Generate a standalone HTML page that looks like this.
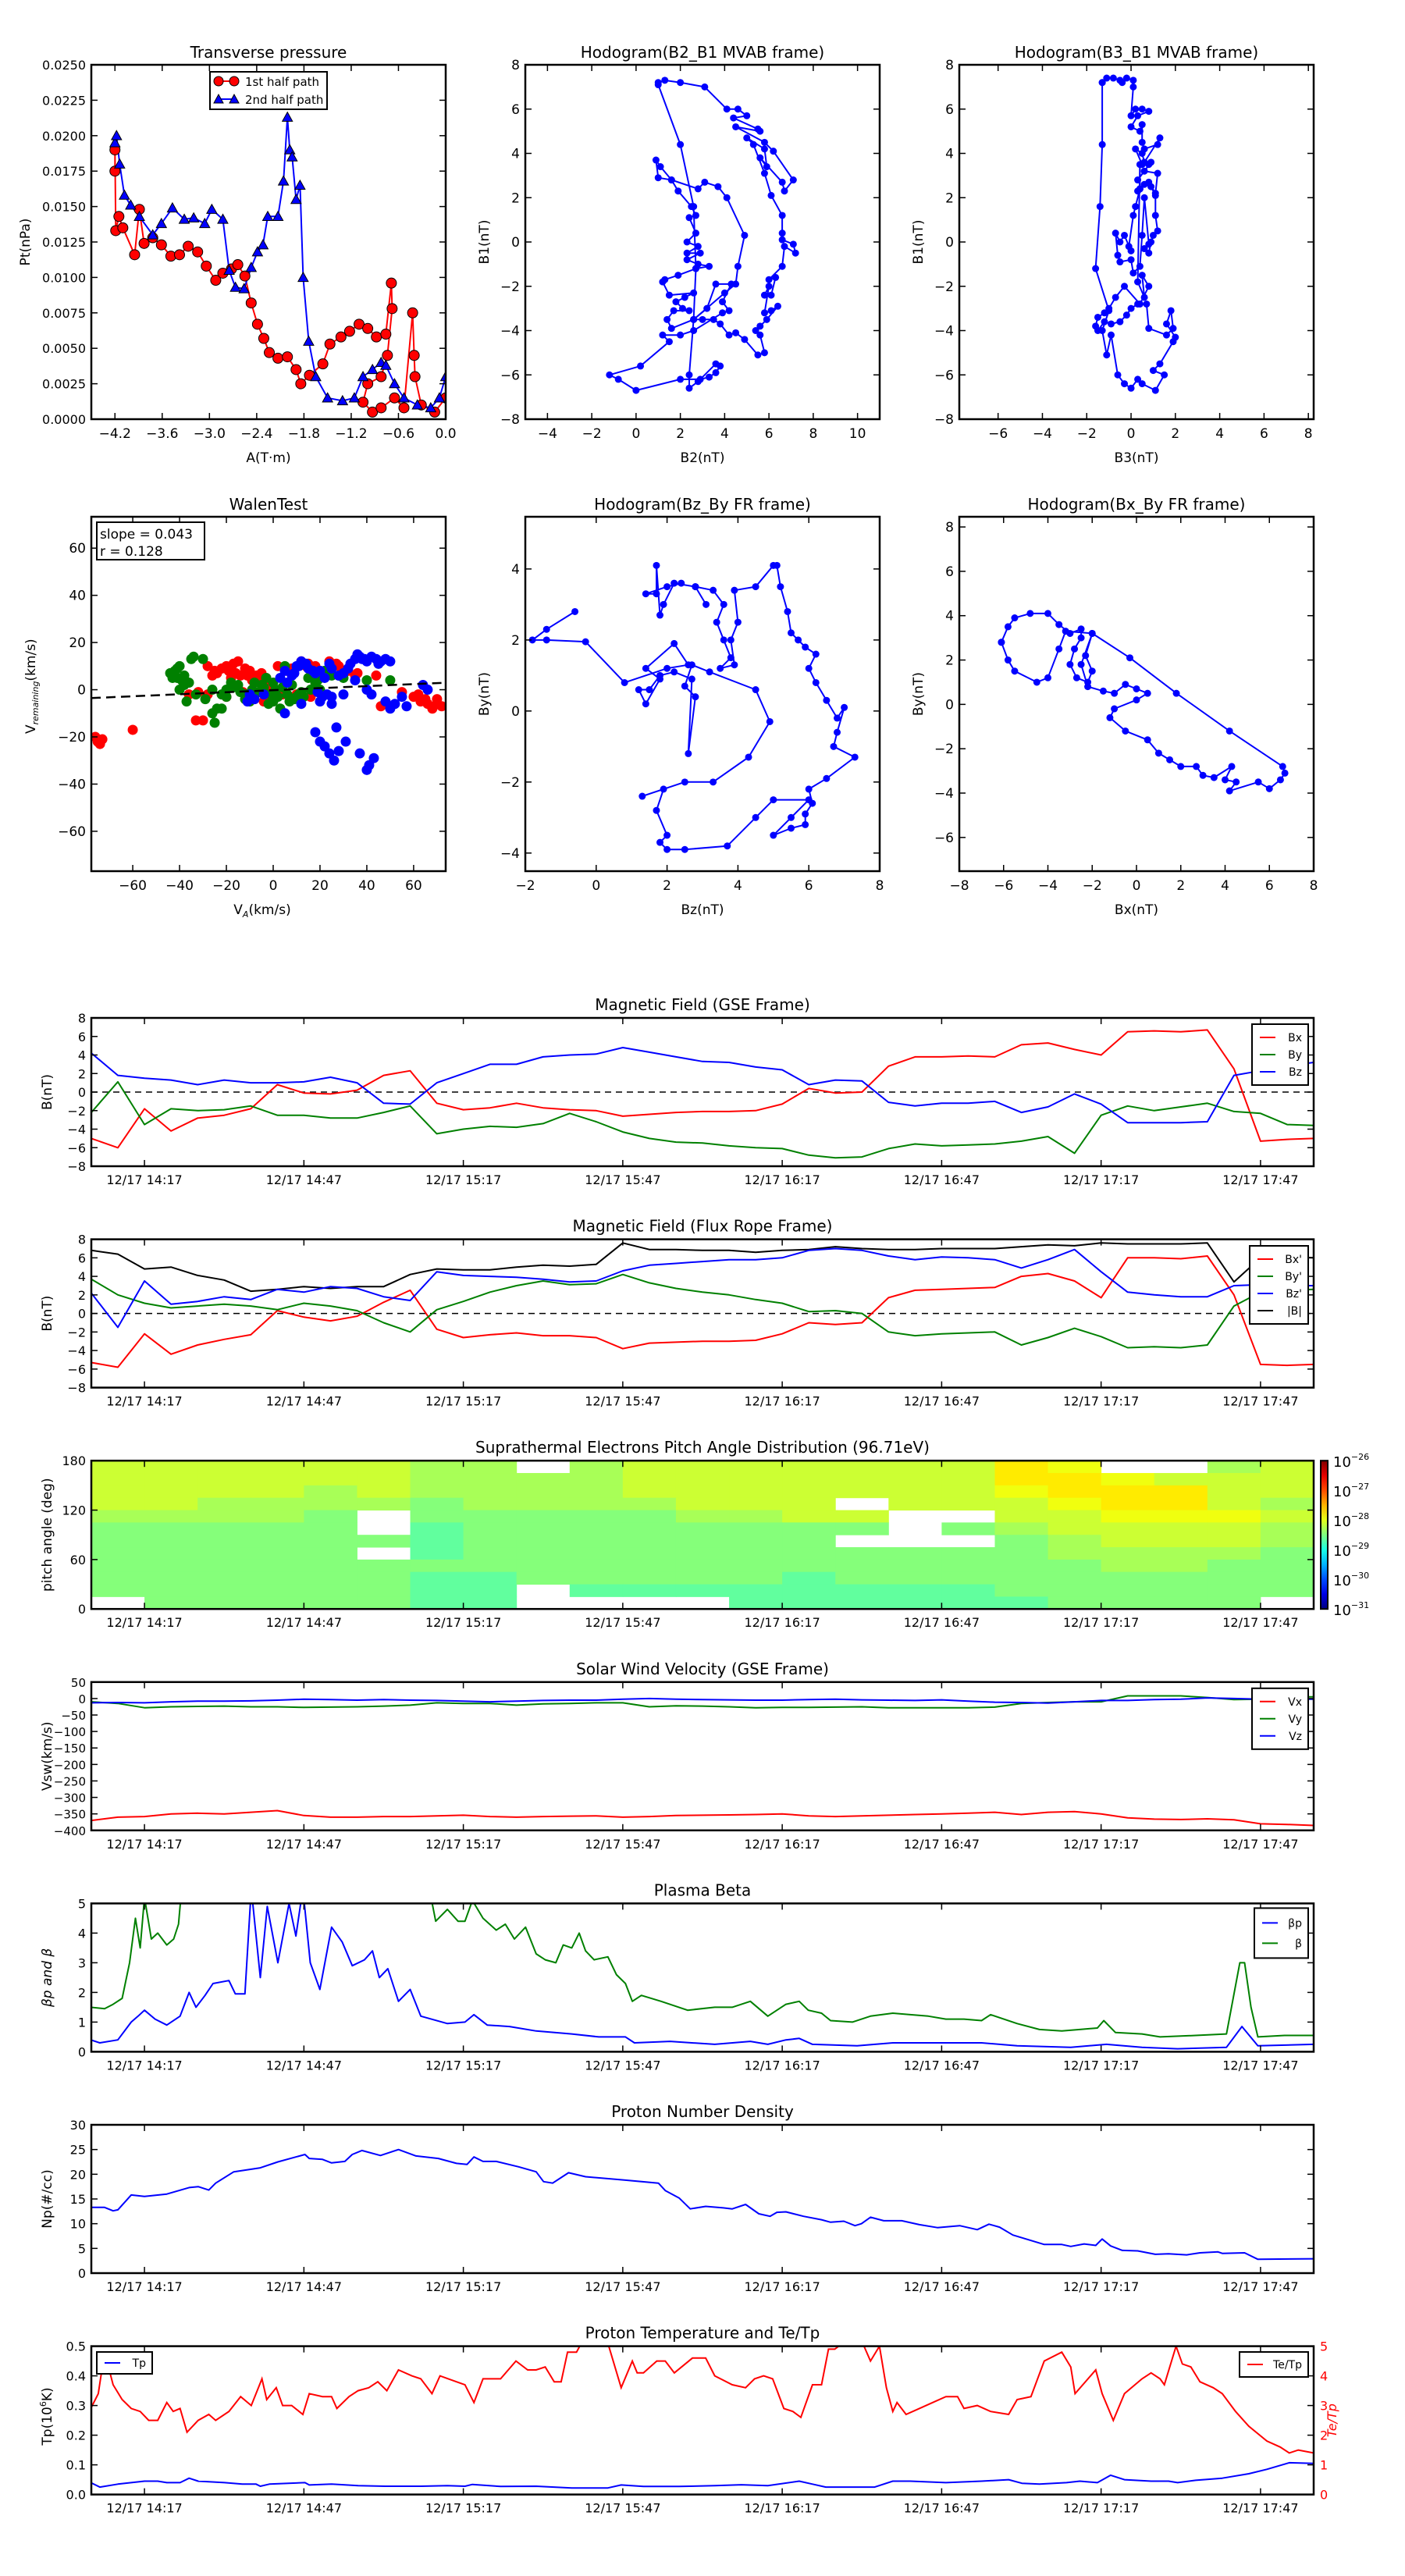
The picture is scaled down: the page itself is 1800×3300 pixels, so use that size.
<!DOCTYPE html>
<html><head><meta charset="utf-8"><title>Flux rope analysis</title>
<style>body{margin:0;background:#fff}svg{display:block}</style></head>
<body>
<svg id="fig" xmlns="http://www.w3.org/2000/svg" width="1800" height="3300" viewBox="0 0 1800 3300"><defs id="defs"></defs></svg>
<script>
// ===================== DATA =====================
const ptRedA=[-4.2,-4.2,-4.19,-4.15,-4.1,-3.95,-3.89,-3.83,-3.72,-3.61,-3.49,-3.38,-3.27,-3.15,-3.04,-2.92,-2.83,-2.72,-2.64,-2.55,-2.47,-2.39,-2.31,-2.24,-2.13,-2.01,-1.9,-1.84,-1.73,-1.56,-1.47,-1.33,-1.22,-1.1,-0.99,-0.88,-0.76,-0.69,-0.68,-0.74,-0.82,-0.99,-1.05,-0.93,-0.82,-0.65,-0.53,-0.42,-0.4,-0.39,-0.31,-0.14,0];
const ptRedP=[0.0175,0.019,0.0133,0.0143,0.0135,0.0116,0.0148,0.0124,0.0128,0.0123,0.0115,0.0116,0.0122,0.0118,0.0108,0.0098,0.0103,0.0106,0.0109,0.0101,0.0082,0.0067,0.0057,0.0047,0.0043,0.0044,0.0035,0.0025,0.0031,0.0039,0.0053,0.0058,0.0062,0.0067,0.0064,0.0058,0.006,0.0096,0.0078,0.0045,0.003,0.0025,0.0012,0.0005,0.0008,0.0015,0.0008,0.0075,0.0045,0.003,0.001,0.0005,0.0015];
const ptBlueA=[-4.2,-4.18,-4.14,-4.08,-4.0,-3.89,-3.72,-3.61,-3.47,-3.32,-3.2,-3.06,-2.97,-2.83,-2.75,-2.67,-2.56,-2.47,-2.39,-2.32,-2.26,-2.13,-2.06,-2.01,-1.98,-1.95,-1.9,-1.85,-1.81,-1.74,-1.65,-1.5,-1.31,-1.16,-1.05,-0.93,-0.82,-0.76,-0.65,-0.53,-0.36,-0.19,-0.08,0];
const ptBlueP=[0.0195,0.02,0.018,0.0158,0.0151,0.0143,0.013,0.0138,0.0149,0.0141,0.0142,0.0138,0.0148,0.0141,0.0105,0.0093,0.0092,0.0107,0.0118,0.0123,0.0143,0.0143,0.0168,0.0213,0.019,0.0185,0.0155,0.0165,0.01,0.0055,0.003,0.0015,0.0013,0.0015,0.003,0.0035,0.004,0.0038,0.0025,0.0015,0.001,0.0008,0.0015,0.003];
const hB2=[1.0,1.3,2.0,3.1,4.1,4.6,5.0,4.4,5.5,5.6,4.5,5.8,6.2,7.1,6.7,6.6,5.6,5.9,5.8,5.0,5.3,5.8,6.1,6.6,6.6,6.6,7.1,7.2,6.7,6.6,6.0,6.3,6.1,5.8,6.0,5.8,6.1,6.4,5.9,5.6,5.4,5.6,5.8,5.5,4.9,4.5,4.2,3.8,3.5,3.0,2.6,4.0,4.5,4.6,4.9,4.1,3.7,3.1,2.8,1.6,1.0,0.9,1.1,1.6,1.9,2.5,2.7,2.4,2.7,2.3,2.8,2.3,2.9,2.3,2.8,3.3,2.7,1.9,1.3,1.2,1.5,2.6,2.2,1.8,2.1,2.4,1.7,1.4,1.6,2.6,3.2,3.6,4.3,3.9,4.2,3.9,2.6,2.0,1.2,1.5,0.2,-1.2,-0.8,0.0,2.0,2.9,3.3,3.6,3.8,3.6,2.8,2.4,2.4,2.6,2.7,2.6,2.0,1.0];
const hB1=[7.2,7.3,7.2,7.0,6.0,6.0,5.7,5.6,5.1,5.0,5.2,4.5,4.1,2.8,2.3,2.7,3.8,3.4,4.2,4.7,4.4,3.1,2.1,1.2,0.4,0.1,-0.1,-0.5,-0.2,-1.1,-1.7,-1.6,-2.4,-2.4,-2.0,-3.2,-3.1,-2.9,-3.5,-3.8,-4.0,-4.2,-5.0,-5.1,-4.4,-4.1,-4.2,-3.7,-3.5,-3.5,-3.5,-2.3,-1.9,-1.1,0.3,2.0,2.5,2.7,2.4,2.8,2.9,3.7,3.4,2.8,2.3,1.6,1.2,1.1,0.4,0.0,-0.2,-0.5,-0.5,-0.8,-1.0,-1.1,-1.2,-1.5,-1.7,-1.8,-2.4,-2.3,-2.5,-2.7,-3.0,-3.1,-3.1,-3.5,-3.9,-3.5,-3.0,-1.9,-1.9,-2.7,-3.1,-3.2,-4.0,-4.2,-4.2,-4.5,-5.6,-6.0,-6.2,-6.7,-6.2,-6.2,-6.1,-5.9,-5.6,-5.5,-6.3,-6.6,-6.0,-3.5,-1.2,1.6,4.4,7.1];
const hB3=[-1.3,-1.1,-0.8,-0.5,-0.4,-0.2,0.1,0.1,0.0,0.2,0.5,0.8,0.3,0.0,0.4,0.5,0.5,0.6,1.2,1.3,0.6,0.5,0.2,0.5,0.8,0.9,0.3,0.6,1.2,1.1,0.8,0.4,0.3,0.6,0.9,1.1,1.1,1.2,1.0,0.9,0.8,0.6,0.8,0.6,0.5,0.4,0.1,0.0,-0.5,-0.6,-0.7,-0.5,-0.3,0.0,-0.1,0.1,0.2,0.4,0.4,0.3,0.6,0.5,0.8,0.4,-0.3,-0.7,-1.0,-1.2,-1.5,-1.6,-1.5,-1.2,-0.9,-0.5,-0.2,0.0,0.3,0.7,0.8,1.6,1.9,1.8,1.6,2.0,1.9,1.3,1.0,1.5,1.1,0.5,0.3,0.0,-0.3,-0.6,-0.9,-1.1,-1.3,-1.0,-1.6,-1.4,-1.3,-1.3];
const hB1b=[7.2,7.4,7.4,7.3,7.2,7.4,7.3,7.0,5.7,6.0,6.0,5.9,5.7,5.2,5.0,5.3,4.5,4.2,4.4,4.7,3.6,4.0,4.2,3.5,3.5,3.6,2.8,3.2,3.1,2.2,2.7,2.4,2.3,2.6,2.5,2.1,1.2,0.5,0.3,0.0,-0.5,-0.3,-0.1,2.0,0.3,-1.1,-1.4,-0.8,-0.9,-0.6,0.4,0.0,0.3,-0.4,-0.2,1.2,1.6,2.4,3.5,-1.8,-2.5,-1.5,-2.0,-2.8,-2.0,-2.5,-3.0,-3.2,-3.4,-3.8,-4.0,-3.6,-3.7,-3.6,-3.3,-3.0,-2.8,-2.8,-3.9,-4.2,-3.9,-3.1,-3.7,-4.3,-4.5,-5.5,-5.8,-6.0,-6.7,-6.4,-6.2,-6.6,-6.4,-6.0,-4.2,-5.1,-4.0,-3.1,-1.2,1.6,4.4,7.2];
const walRedX=[-76,-75,-73,-74,-60,-33,-30,-28,-25,-22,-20,-17,-15,-12,-10,-7,-5,-3,2,8,12,15,18,24,28,32,-36,-28,-20,-13,-8,-2,4,10,35,46,55,60,63,66,68,70,72,-26,-18,-24,-19,-14,-9,-6,-2,-1,6,14,20,27,-32,-16,-11,-4,62,65,70,16,36,44];
const walRedY=[-20,-22,-21,-23,-17,-13,-13,10,8,9,10,11,12,9,8,6,7,5,10,9,12,11,10,12,10,8,-2,-2,-3,-1,-4,-5,-2,-2,6,-7,-1,-3,-5,-6,-8,-4,-7,6,5,7,8,6,4,3,1,-4,8,10,8,11,-1,7,6,-5,-2,-4,-6,-3,7,6];
const walGreenX=[-44,-42,-41,-40,-39,-38,-35,-34,-30,-40,-37,-33,-29,-26,-25,-24,-20,-18,-15,-12,-10,-8,-6,-4,-3,0,0,2,3,5,8,10,12,15,18,20,22,25,28,30,40,45,50,-26,-22,-43,-41,-38,-36,-22,-17,-14,-9,-5,-1,1,4,6,9,13,16,19,24,-20,-12,-2,7,11];
const walGreenY=[7,8,5,10,4,2,13,14,13,0,-5,-2,-4,-10,-14,-8,0,3,2,-2,-5,3,-1,1,5,3,-5,-3,-8,10,2,-3,-1,5,3,0,8,6,6,5,4,11,4,0,-8,5,9,6,3,-2,1,-1,0,2,-2,0,1,-2,-4,-3,0,4,7,-3,-4,-6,-5,-2];
const walBlueX=[3,5,8,10,12,15,18,20,22,25,28,32,35,36,38,40,42,45,48,50,35,40,42,48,50,30,25,20,-10,-8,-4,5,12,18,20,22,24,26,28,31,27,37,40,41,43,6,9,11,14,17,24,30,33,37,39,44,46,52,55,57,64,66,-11,19,21,23,25];
const walBlueY=[5,8,6,10,12,9,7,8,5,9,6,9,13,15,13,12,14,11,13,12,4,0,-2,-5,-8,-2,-3,-5,-2,-4,-2,-10,-6,-18,-22,-24,-27,-30,-26,-22,-16,-27,-34,-32,-29,3,7,10,11,8,11,7,11,14,13,13,12,-6,-3,-7,2,0,-5,-1,-3,-2,-6];
const walSlope=0.043, walIntercept=-0.2;
const frBz=[2.4,2.0,1.4,1.7,1.7,1.8,1.9,2.2,2.8,3.1,2.8,3.3,3.6,3.4,3.6,3.8,3.5,3.9,3.8,4.0,3.9,4.5,5.0,5.1,5.2,5.4,5.5,5.7,5.9,6.2,6.0,6.2,6.5,6.8,7.0,6.8,6.7,7.3,6.5,6.0,6.1,5.9,5.9,5.5,5.0,5.5,6.0,5.0,4.5,3.7,2.5,2.0,1.8,2.0,1.7,1.9,1.3,2.5,3.3,4.3,4.9,4.5,3.2,2.7,2.5,2.8,2.6,2.7,2.2,1.8,1.5,1.2,1.4,1.8,1.4,2.2,2.6,2.0,0.8,-0.3,-1.4,-1.8,-1.4,-0.6];
const frBy=[3.6,3.5,3.3,3.3,4.1,2.7,3.0,3.6,3.5,3.0,3.5,3.4,3.0,2.5,2.0,1.5,1.2,1.3,2.0,2.5,3.4,3.5,4.1,4.1,3.5,2.8,2.2,2.0,1.8,1.6,1.2,0.8,0.3,-0.2,0.1,-0.6,-1.0,-1.3,-1.9,-2.2,-2.6,-2.9,-3.2,-3.3,-3.5,-3.0,-2.5,-2.5,-3.0,-3.8,-3.9,-3.9,-3.7,-3.5,-2.8,-2.2,-2.4,-2.0,-2.0,-1.3,-0.3,0.6,1.1,1.3,0.7,0.4,-1.2,0.9,1.1,1.0,0.6,0.6,0.2,0.9,1.2,1.9,1.3,1.2,0.8,1.95,2.0,2.0,2.3,2.8];
const frBx=[-6.1,-5.8,-5.5,-4.8,-4.0,-3.5,-3.0,-2.5,-2.5,-2.8,-3.0,-2.7,-2.2,-2.0,-2.3,-2.0,-2.5,-2.2,-1.5,-1.0,-0.5,0.0,0.5,0.0,-1.0,-1.2,-0.5,0.5,1.0,1.5,2.0,2.7,3.0,3.5,4.3,4.0,4.5,4.2,5.5,6.0,6.5,6.7,6.6,4.2,1.8,-0.3,-2.0,-3.2,-3.5,-4.0,-4.5,-5.5,-5.8,-6.1];
const frByB=[2.8,3.5,3.9,4.1,4.1,3.6,3.2,3.4,3.0,2.5,1.8,1.2,1.0,1.5,2.2,3.2,1.8,0.8,0.6,0.5,0.9,0.7,0.5,0.2,-0.2,-0.6,-1.2,-1.6,-2.2,-2.5,-2.8,-2.8,-3.2,-3.3,-2.8,-3.4,-3.5,-3.9,-3.5,-3.8,-3.4,-3.1,-2.8,-1.2,0.5,2.1,3.2,3.3,2.5,1.2,1.0,1.5,2.0,2.8];

const tGrid=[-10,-5,0,5,10,15,20,25,30,35,40,45,50,55,60,65,70,75,80,85,90,95,100,105,110,115,120,125,130,135,140,145,150,155,160,165,170,175,180,185,190,195,200,205,210,215,220];
const tickMinutes=[0,30,60,90,120,150,180,210];
const tickLabels=["12/17 14:17","12/17 14:47","12/17 15:17","12/17 15:47","12/17 16:17","12/17 16:47","12/17 17:17","12/17 17:47"];
const gseBx=[-5,-6,-1.8,-4.2,-2.8,-2.5,-1.8,0.8,-0.1,-0.2,0.2,1.8,2.3,-1.2,-1.9,-1.7,-1.2,-1.7,-1.9,-2,-2.6,-2.4,-2.2,-2.1,-2.1,-2,-1.3,0.4,-0.1,0,2.8,3.8,3.8,3.9,3.8,5.1,5.3,4.6,4.0,6.5,6.6,6.5,6.7,2.5,-5.3,-5.1,-5];
const gseBy=[-2.2,1.1,-3.5,-1.8,-2,-1.9,-1.5,-2.5,-2.5,-2.8,-2.8,-2.2,-1.5,-4.5,-4,-3.7,-3.8,-3.4,-2.3,-3.2,-4.3,-5,-5.4,-5.5,-5.8,-6,-6.1,-6.8,-7.1,-7,-6.1,-5.6,-5.8,-5.7,-5.6,-5.3,-4.8,-6.6,-2.5,-1.5,-2,-1.6,-1.2,-2.1,-2.3,-3.5,-3.6];
const gseBz=[4.2,1.8,1.5,1.3,0.8,1.3,1.0,1.0,1.1,1.6,1.0,-1.2,-1.3,1.0,2.0,3.0,3.0,3.8,4.0,4.1,4.8,4.3,3.8,3.3,3.2,2.7,2.4,0.8,1.3,1.2,-1.1,-1.5,-1.2,-1.2,-1.0,-2.2,-1.6,-0.2,-1.3,-3.3,-3.3,-3.3,-3.2,1.8,2.3,2.8,3.2];
const frBxp=[-5.3,-5.8,-2.2,-4.4,-3.4,-2.8,-2.3,0.3,-0.4,-0.8,-0.3,1.2,2.5,-1.7,-2.6,-2.3,-2.1,-2.4,-2.4,-2.6,-3.8,-3.2,-3.1,-3.0,-3.0,-2.9,-2.2,-1.0,-1.2,-1.0,1.7,2.5,2.6,2.7,2.8,4.0,4.3,3.5,1.7,6.0,6.0,5.9,6.2,2.0,-5.5,-5.6,-5.5];
const frByp=[3.7,2.0,1.1,0.6,0.8,1.0,0.8,0.4,1.1,0.8,0.3,-1.0,-2.0,0.4,1.3,2.3,3.0,3.5,3.1,3.2,4.2,3.3,2.7,2.3,2.0,1.5,1.1,0.2,0.3,0.0,-2.0,-2.4,-2.2,-2.1,-2.0,-3.4,-2.6,-1.6,-2.5,-3.7,-3.6,-3.7,-3.4,0.8,2.3,2.5,2.6];
const frBzp=[2.2,-1.5,3.5,1.0,1.3,1.8,1.5,2.6,2.3,2.9,2.7,1.8,1.4,4.5,4.1,4.0,3.9,3.7,3.4,3.5,4.6,5.2,5.4,5.6,5.8,5.8,6.0,6.8,7.0,6.8,6.2,5.8,6.1,6.0,5.8,4.9,5.8,6.9,4.5,2.3,2.0,1.8,1.8,3.0,3.1,3.0,3.0];
const frBmag=[6.8,6.4,4.8,5.0,4.1,3.6,2.4,2.6,2.9,2.7,2.9,2.9,4.2,4.8,4.7,4.7,5.0,5.2,5.1,5.3,7.6,6.9,6.9,6.8,6.8,6.6,6.8,6.9,7.2,7.0,6.9,6.9,7.0,7.0,7.0,7.2,7.4,7.3,7.6,7.5,7.5,7.5,7.6,3.4,6.0,6.1,6.0];
const padRows=[
"555555"+"44.4"+"5555555"+"76"+".."+"45",
"555555"+"4444"+"5555555"+"77"+"65"+"55",
"555545"+"4444"+"5555555"+"67"+"77"+"55",
"554444"+"3444"+"4555.55"+"56"+"77"+"54",
"44443."+"3333"+"34455.."+"55"+"66"+"65",
"33333."+"2333"+"33333.3"+"45"+"55"+"54",
"333333"+"2333"+"3333..."+"34"+"55"+"54",
"33333."+"2333"+"3333333"+"34"+"44"+"43",
"333333"+"3333"+"3333333"+"33"+"44"+"33",
"333333"+"2233"+"3332333"+"33"+"33"+"33",
"333333"+"22.2"+"2222222"+"33"+"33"+"33",
".33333"+"22.."+"..22222"+"23"+"33"+"3."];
const padColStart=-10, padColWidth=10, padRowHeight=15;
const cbarLabels=["26","27","28","29","30","31"];
const swVx=[-370,-360,-358,-350,-348,-350,-345,-340,-355,-360,-360,-358,-358,-356,-354,-358,-360,-358,-357,-356,-360,-358,-355,-354,-353,-352,-350,-356,-358,-356,-354,-352,-350,-348,-345,-352,-345,-343,-350,-362,-366,-367,-365,-368,-380,-382,-385];
const swVy=[-10,-15,-28,-25,-24,-23,-25,-25,-27,-26,-25,-23,-20,-13,-15,-15,-20,-16,-15,-13,-13,-25,-22,-23,-25,-28,-27,-27,-26,-25,-28,-28,-28,-28,-26,-15,-12,-10,-10,8,8,8,3,-3,-2,5,5];
const swVz=[-13,-12,-13,-10,-8,-8,-7,-5,-2,-3,-5,-3,-5,-6,-8,-10,-8,-6,-5,-5,-2,0,-2,-3,-4,-5,-5,-3,-2,-4,-5,-6,-4,-8,-11,-12,-14,-10,-6,-6,-3,-2,2,0,-2,-2,-2];
const betaPT=[-10.1,-8.4,-5.0,-2.5,-1.2,0,2.0,4.2,6.7,8.4,9.7,11.4,12.9,15.9,17.1,18.9,20.1,21.8,23.1,25.1,27.2,28.5,29.8,31.2,33.0,35.2,37.2,39.1,41.4,42.9,44.2,45.8,47.8,50.0,52.0,57.0,60.3,62.0,64.5,68.7,73.7,80.4,85.5,90.5,92.2,98.9,107.3,114.0,117.3,120.7,123.2,125.7,134.1,140.8,147.5,157.5,164.2,174.3,181.0,187.7,194.4,203.6,206.5,209.5,220];
const betaPV=[0.4,0.3,0.4,1.0,1.2,1.4,1.1,0.9,1.2,2.0,1.5,1.9,2.3,2.4,1.95,1.95,5.5,2.5,4.9,3.0,5.0,3.9,5.5,3.0,2.1,4.2,3.7,2.9,3.1,3.4,2.5,2.8,1.7,2.1,1.2,0.95,1.0,1.25,0.9,0.85,0.7,0.6,0.5,0.5,0.3,0.35,0.25,0.35,0.25,0.4,0.45,0.25,0.2,0.3,0.3,0.3,0.2,0.15,0.25,0.15,0.1,0.15,0.85,0.2,0.25];
const betaT=[-10.1,-7.5,-5.9,-4.2,-2.8,-1.7,-0.8,0,1.3,2.5,4.2,5.5,6.4,7.0,53.6,54.8,57.0,59.0,60.3,61.7,63.7,66.2,67.9,69.6,71.7,73.7,75.4,77.4,78.8,80.4,81.8,83.0,84.6,87.2,88.8,90.5,91.8,93.5,97.2,102.2,107.3,110.6,114.0,117.3,120.7,123.2,124.9,127.4,129.1,133.2,136.6,140.8,144.1,147.5,150.8,154.2,157.5,159.2,164.2,168.4,172.6,176.0,179.3,180.5,182.7,187.7,191.1,197.8,203.6,206.1,207.0,208.2,209.5,214.5,220];
const betaV=[1.5,1.45,1.6,1.8,3,4.5,3.5,5.2,3.8,4.0,3.6,3.8,4.3,5.5,5.5,4.4,4.8,4.4,4.4,5.1,4.5,4.1,4.3,3.8,4.2,3.3,3.1,3.0,3.6,3.5,4.0,3.4,3.1,3.2,2.6,2.3,1.7,1.9,1.7,1.4,1.5,1.5,1.7,1.2,1.6,1.7,1.4,1.3,1.05,1.0,1.2,1.3,1.25,1.2,1.1,1.1,1.05,1.25,0.95,0.75,0.7,0.75,0.8,1.05,0.65,0.6,0.5,0.55,0.6,3.0,3.0,1.5,0.5,0.55,0.55];
const npT=[-10.1,-7.5,-5.9,-5.0,-2.5,0,4.2,8.4,10.1,12.1,13.4,16.8,21.8,25.1,30.2,31.0,33.5,35.2,37.7,39.1,40.9,44.4,47.8,51.1,55.3,58.7,60.7,62.0,63.7,66.2,70.4,73.7,75.1,76.8,79.8,83.0,90.5,96.7,98.0,100.6,102.7,105.6,108.9,110.6,113.1,115.6,117.7,119.0,120.7,124.0,127.4,129.1,131.6,133.7,134.9,136.6,139.1,142.5,145.8,149.2,153.4,156.7,158.9,160.9,163.4,165.9,169.3,172.6,174.3,176.8,179.0,180.2,181.8,184.0,186.9,190.2,192.7,196.1,198.6,202.0,202.8,207.0,209.5,220];
const npV=[13.3,13.3,12.6,12.8,15.8,15.5,16.0,17.3,17.5,16.8,18.2,20.5,21.3,22.5,24.0,23.2,23.0,22.3,22.6,24.0,24.8,23.8,25.0,23.7,23.2,22.2,22.0,23.5,22.6,22.6,21.5,20.5,18.5,18.2,20.3,19.5,18.8,18.2,16.7,15.2,13.0,13.5,13.2,13.0,13.9,12.0,11.5,12.3,12.4,11.5,10.8,10.3,10.5,9.6,10.0,11.3,10.6,10.6,9.8,9.2,9.6,8.8,9.9,9.3,7.7,6.9,5.8,5.8,5.4,5.9,5.6,6.9,5.5,4.6,4.5,3.8,3.9,3.7,4.1,4.3,4.0,4.1,2.8,2.9];
const tpT=[-10.1,-8.4,-5.0,0,2.5,4.2,6.7,8.4,10.1,15.1,18.4,21.0,21.8,23.5,30.2,31.0,35.2,40.2,45.3,52.0,57.0,60.3,61.7,67.0,73.7,80.4,87.2,89.7,93.9,100.6,107.3,112.3,117.3,123.2,125.7,128.2,137.4,140.8,144.1,150.8,157.5,162.6,165.1,168.4,173.5,176.0,179.3,181.8,184.4,189.4,192.7,194.4,197.8,202.8,207.8,211.2,215.4,220];
const tpV=[0.04,0.025,0.035,0.045,0.045,0.04,0.04,0.055,0.045,0.04,0.035,0.035,0.028,0.035,0.04,0.032,0.035,0.03,0.028,0.028,0.03,0.028,0.034,0.027,0.028,0.022,0.022,0.032,0.027,0.027,0.03,0.033,0.03,0.045,0.035,0.025,0.025,0.045,0.045,0.04,0.045,0.05,0.038,0.035,0.04,0.045,0.04,0.065,0.05,0.045,0.045,0.04,0.048,0.055,0.07,0.085,0.107,0.105];
const teT=[-10.1,-8.7,-7.5,-5.9,-4.2,-2.5,-0.8,0.8,2.5,4.2,5.4,6.7,8.0,10.1,12.1,13.4,15.9,18.1,20.1,22.1,23.0,24.8,26.0,27.7,29.8,31.0,33.5,35.2,36.2,38.5,40.2,42.2,43.9,45.6,47.8,50.3,52.0,54.1,55.6,58.7,60.3,62.0,63.7,67.0,69.9,72.1,73.7,75.4,77.1,78.4,79.6,81.3,82.5,87.2,89.7,91.8,92.7,93.9,96.4,98.0,99.7,103.1,105.6,107.3,110.6,113.1,114.8,116.5,118.2,120.3,122.0,123.5,125.7,127.4,128.7,129.9,132.1,134.9,136.6,138.3,139.6,140.8,141.6,143.3,145.8,148.3,150.8,153.0,154.2,156.7,159.2,162.6,164.2,166.8,169.3,172.6,174.3,175.1,179.0,180.2,182.3,184.4,187.7,189.4,191.1,191.9,194.1,195.3,196.9,198.6,201.1,202.8,205.3,207.8,211.2,213.7,215.4,217.1,220];
const teV=[2.9,3.4,4.8,3.7,3.2,2.9,2.8,2.5,2.5,3.1,2.8,2.9,2.1,2.5,2.7,2.5,2.8,3.3,3.0,3.9,3.2,3.6,3.0,3.0,2.7,3.4,3.3,3.3,2.9,3.3,3.5,3.6,3.8,3.5,4.2,4.0,3.9,3.4,4.0,3.8,3.7,3.1,3.9,3.9,4.5,4.2,4.2,4.3,3.8,3.8,4.8,4.8,5.2,5.1,3.6,4.5,4.1,4.1,4.5,4.5,4.1,4.6,4.6,4.0,3.7,3.6,3.9,4.0,3.9,2.9,2.8,2.6,3.7,3.7,4.9,4.9,5.2,5.2,4.5,5.0,3.6,2.8,3.1,2.7,2.9,3.1,3.3,3.3,2.9,3.0,2.8,2.7,3.2,3.3,4.5,4.8,4.3,3.4,4.2,3.4,2.5,3.4,3.9,4.1,3.9,3.7,5.0,4.4,4.3,3.8,3.6,3.4,2.8,2.3,1.8,1.6,1.4,1.5,1.4];

// ===================== DRAWING =====================
const NS='http://www.w3.org/2000/svg';
const svg=document.getElementById('fig');
const defs=document.getElementById('defs');
const FONT='"DejaVu Sans","Liberation Sans",sans-serif';
const MINUS='\u2212';
function mk(tag,attrs,parent){const e=document.createElementNS(NS,tag);for(const k in attrs)e.setAttribute(k,attrs[k]);(parent||svg).appendChild(e);return e;}
function fmt(v,d){const s=Math.abs(v).toFixed(d);return (v<0?MINUS:'')+s;}
function text(str,x,y,size,anchor,parent,name,fill,rot){
  const t=mk('text',{x:x,y:y,'font-size':size,'font-family':FONT,'text-anchor':anchor||'middle',fill:fill||'#000'},parent);
  if(rot)t.setAttribute('transform','rotate('+rot+' '+x+' '+y+')');
  t.textContent=str;
  
  
  return t;
}
let clipN=0;
function panel(name,x0,y0,w,h,xr,yr){
  const g=mk('g',{});
  
  
  const id='clip'+(clipN++);
  const cp=mk('clipPath',{id:id},defs);
  mk('rect',{x:x0,y:y0,width:w,height:h},cp);
  const plot=mk('g',{'clip-path':'url(#'+id+')'},g);
  
  
  return {g,plot,x0,y0,w,h,sx:v=>x0+(v-xr[0])/(xr[1]-xr[0])*w,sy:v=>y0+h-(v-yr[0])/(yr[1]-yr[0])*h};
}
function frame(p){
  const r=mk('rect',{x:p.x0,y:p.y0,width:p.w,height:p.h,fill:'none',stroke:'#000','stroke-width':2.5},p.g);
  
  
}
function xTicks(p,vals,labs,size,dy){
  vals.forEach((v,i)=>{const x=p.sx(v);
    mk('line',{x1:x,y1:p.y0+p.h,x2:x,y2:p.y0+p.h-8,stroke:'#000','stroke-width':1.5},p.g);
    mk('line',{x1:x,y1:p.y0,x2:x,y2:p.y0+8,stroke:'#000','stroke-width':1.5},p.g);
    if(labs[i]!==null)text(labs[i],x,p.y0+p.h+(dy||24),size||17,'middle',p.g,'x-tick-label');});
}
function yTicks(p,vals,labs,size,rightLabs,rcol){
  vals.forEach((v,i)=>{const y=p.sy(v);
    mk('line',{x1:p.x0,y1:y,x2:p.x0+8,y2:y,stroke:'#000','stroke-width':1.5},p.g);
    mk('line',{x1:p.x0+p.w,y1:y,x2:p.x0+p.w-8,y2:y,stroke:rcol||'#000','stroke-width':1.5},p.g);
    if(labs&&labs[i]!==null)text(labs[i],p.x0-7,y+6,size||17,'end',p.g,'y-tick-label');});
}
function polyline(p,xs,ys,color,name,w){
  const pts=xs.map((x,i)=>p.sx(x).toFixed(1)+','+p.sy(ys[i]).toFixed(1)).join(' ');
  const l=mk('polyline',{points:pts,fill:'none',stroke:color,'stroke-width':w||2,'stroke-linejoin':'round'},p.plot);
  
  
  return l;
}
function dots(p,xs,ys,color,r,name,edge){
  xs.forEach((x,i)=>{
    const c=mk('circle',{cx:p.sx(x),cy:p.sy(ys[i]),r:r,fill:color,stroke:edge||'none','stroke-width':1},p.plot);
    
    
  });
}
function tris(p,xs,ys,color,s,name){
  xs.forEach((x,i)=>{const cx=p.sx(x),cy=p.sy(ys[i]);
    const t=mk('polygon',{points:cx+','+(cy-s)+' '+(cx-s)+','+(cy+s*0.8)+' '+(cx+s)+','+(cy+s*0.8),fill:color,stroke:'#000','stroke-width':1},p.plot);
    
    
  });
}
function range(a,b,s){const r=[];for(let v=a;v<=b+1e-9;v+=s)r.push(+v.toFixed(6));return r;}

const R1=83,R2=662,PH=454;
let p=panel('transverse-pressure-chart',117,R1,454,PH,[-4.5,0],[0,0.025]);
polyline(p,ptRedA,ptRedP,'#f00','first-half-path-line',2);
polyline(p,ptBlueA,ptBlueP,'#00f','second-half-path-line',2);
dots(p,ptRedA,ptRedP,'#f00',6.5,'first-half-marker','#000');
tris(p,ptBlueA,ptBlueP,'#00f',6.5,'second-half-marker');
frame(p);
let tv=range(-4.2,0,0.6);xTicks(p,tv,tv.map(v=>fmt(v,1)));
tv=range(0,0.025,0.0025);yTicks(p,tv,tv.map(v=>v.toFixed(4)),16);
text('Transverse pressure',344,74,20,'middle',p.g,'chart-title');
text('A(T\u00b7m)',344,592,17,'middle',p.g,'x-axis-title');
text('Pt(nPa)',38,310,17,'middle',p.g,'y-axis-title',null,-90);
{const lg=mk('g',{},p.g);
 mk('rect',{x:269,y:92,width:150,height:48,fill:'#fff',stroke:'#000','stroke-width':2},lg);
 mk('line',{x1:280,y1:104,x2:300,y2:104,stroke:'#f00','stroke-width':2},lg);
 mk('circle',{cx:280,cy:104,r:6,fill:'#f00',stroke:'#000'},lg);mk('circle',{cx:300,cy:104,r:6,fill:'#f00',stroke:'#000'},lg);
 mk('line',{x1:280,y1:127,x2:300,y2:127,stroke:'#00f','stroke-width':2},lg);
 mk('polygon',{points:'280,121 274,132 286,132',fill:'#00f',stroke:'#000'},lg);mk('polygon',{points:'300,121 294,132 306,132',fill:'#00f',stroke:'#000'},lg);
 text('1st half path',314,110,15,'start',lg,'legend-label-first-half');
 text('2nd half path',314,133,15,'start',lg,'legend-label-second-half');}

p=panel('hodogram-b2-b1-chart',673,R1,454,PH,[-5,11],[-8,8]);
polyline(p,hB2,hB1,'#00f','hodogram-path',2);dots(p,hB2,hB1,'#00f',4.5,'hodogram-point');
frame(p);tv=range(-4,10,2);xTicks(p,tv,tv.map(v=>fmt(v,0)));
tv=range(-8,8,2);yTicks(p,tv,tv.map(v=>fmt(v,0)));
text('Hodogram(B2_B1 MVAB frame)',900,74,20,'middle',p.g,'chart-title');
text('B2(nT)',900,592,17,'middle',p.g,'x-axis-title');
text('B1(nT)',626,310,17,'middle',p.g,'y-axis-title',null,-90);

p=panel('hodogram-b3-b1-chart',1229,R1,454,PH,[-7.75,8.24],[-8,8]);
polyline(p,hB3,hB1b,'#00f','hodogram-path',2);dots(p,hB3,hB1b,'#00f',4.5,'hodogram-point');
frame(p);tv=range(-6,8,2);xTicks(p,tv,tv.map(v=>fmt(v,0)));
tv=range(-8,8,2);yTicks(p,tv,tv.map(v=>fmt(v,0)));
text('Hodogram(B3_B1 MVAB frame)',1456,74,20,'middle',p.g,'chart-title');
text('B3(nT)',1456,592,17,'middle',p.g,'x-axis-title');
text('B1(nT)',1182,310,17,'middle',p.g,'y-axis-title',null,-90);

p=panel('walen-test-chart',117,R2,454,PH,[-77.7,73.7],[-76.9,73.3]);
dots(p,walRedX,walRedY,'#f00',6.5,'walen-point-red');
dots(p,walGreenX,walGreenY,'#008000',6.5,'walen-point-green');
dots(p,walBlueX,walBlueY,'#00f',6.5,'walen-point-blue');
{const xa=-77.7,xb=73.7;const l=mk('line',{x1:p.sx(xa),y1:p.sy(walSlope*xa+walIntercept),x2:p.sx(xb),y2:p.sy(walSlope*xb+walIntercept),stroke:'#000','stroke-width':2.5,'stroke-dasharray':'12,7'},p.plot);
 }
frame(p);tv=range(-60,60,20);xTicks(p,tv,tv.map(v=>fmt(v,0)));yTicks(p,tv,tv.map(v=>fmt(v,0)));
text('WalenTest',344,653,20,'middle',p.g,'chart-title');
{const t=text('V',336,1171,17,'middle',p.g,'x-axis-title');const s=mk('tspan',{'font-size':11,'font-style':'italic',dy:4},t);s.textContent='A';const s2=mk('tspan',{dy:-4},t);s2.textContent='(km/s)';}
{const t=text('V',45,940,17,'start',p.g,'y-axis-title',null,-90);const s=mk('tspan',{'font-size':11,'font-style':'italic',dy:4},t);s.textContent='remaining';const s2=mk('tspan',{dy:-4},t);s2.textContent='(km/s)';}
{const lg=mk('g',{},p.g);
 mk('rect',{x:124,y:669,width:138,height:48,fill:'#fff',stroke:'#000','stroke-width':2},lg);
 text('slope = 0.043',128,690,17,'start',lg,'slope-label');
 text('r = 0.128',128,712,17,'start',lg,'r-label');}

p=panel('hodogram-bz-by-chart',673,R2,454,PH,[-2,8],[-4.51,5.47]);
polyline(p,frBz,frBy,'#00f','hodogram-path',2);dots(p,frBz,frBy,'#00f',4.5,'hodogram-point');
frame(p);tv=range(-2,8,2);xTicks(p,tv,tv.map(v=>fmt(v,0)));
tv=range(-4,4,2);yTicks(p,tv,tv.map(v=>fmt(v,0)));
text('Hodogram(Bz_By FR frame)',900,653,20,'middle',p.g,'chart-title');
text('Bz(nT)',900,1171,17,'middle',p.g,'x-axis-title');
text('By(nT)',626,889,17,'middle',p.g,'y-axis-title',null,-90);

p=panel('hodogram-bx-by-chart',1229,R2,454,PH,[-8,8],[-7.52,8.46]);
polyline(p,frBx,frByB,'#00f','hodogram-path',2);dots(p,frBx,frByB,'#00f',4.5,'hodogram-point');
frame(p);tv=range(-8,8,2);xTicks(p,tv,tv.map(v=>fmt(v,0)));
tv=range(-6,8,2);yTicks(p,tv,tv.map(v=>fmt(v,0)));
text('Hodogram(Bx_By FR frame)',1456,653,20,'middle',p.g,'chart-title');
text('Bx(nT)',1456,1171,17,'middle',p.g,'x-axis-title');
text('By(nT)',1182,889,17,'middle',p.g,'y-axis-title',null,-90);

const TX=117,TW=1566,TH=190,TR=[-10,220];
function ttop(i){return 1304+283.6*i;}
function tpanel(name,i,yr,title,ylabel){
  const q=panel(name,TX,ttop(i),TW,TH,TR,yr);
  text(title,900,ttop(i)-10,20,'middle',q.g,'chart-title');
  if(ylabel)text(ylabel,66,ttop(i)+TH/2,17,'middle',q.g,'y-axis-title',null,-90);
  return q;
}
function tfinish(q,yv,yl,size){frame(q);xTicks(q,tickMinutes,tickLabels,16,23);yTicks(q,yv,yl,size||16);}
function legend(q,x,y,w,entries,gap,name){
  const lg=mk('g',{},q.g);
  mk('rect',{x:x,y:y,width:w,height:entries.length*gap+12,fill:'#fff',stroke:'#000','stroke-width':2},lg);
  entries.forEach((e,k)=>{const yy=y+12+gap*k+gap/2-6;
    const l=mk('line',{x1:x+10,y1:yy,x2:x+30,y2:yy,stroke:e[1],'stroke-width':2},lg);
    
    text(e[0],x+w-8,yy+5,14,'end',lg,'legend-entry');});
  return lg;
}
function zeroLine(q){const l=mk('line',{x1:TX,y1:q.sy(0),x2:TX+TW,y2:q.sy(0),stroke:'#000','stroke-width':1.5,'stroke-dasharray':'8,6'},q.plot);
  }

let q=tpanel('magnetic-field-gse-chart',0,[-8,8],'Magnetic Field (GSE Frame)','B(nT)');
zeroLine(q);
polyline(q,tGrid,gseBx,'#f00','bx-line');polyline(q,tGrid,gseBy,'#008000','by-line');polyline(q,tGrid,gseBz,'#00f','bz-line');
tv=range(-8,8,2);tfinish(q,tv,tv.map(v=>fmt(v,0)));
legend(q,1604,1312,72,[['Bx','#f00'],['By','#008000'],['Bz','#00f']],22);

q=tpanel('magnetic-field-flux-rope-chart',1,[-8,8],'Magnetic Field (Flux Rope Frame)','B(nT)');
zeroLine(q);
polyline(q,tGrid,frBmag,'#000','b-magnitude-line');
polyline(q,tGrid,frBxp,'#f00','bx-prime-line');polyline(q,tGrid,frByp,'#008000','by-prime-line');polyline(q,tGrid,frBzp,'#00f','bz-prime-line');
tfinish(q,tv,tv.map(v=>fmt(v,0)));
legend(q,1601,1596,75,[["Bx'",'#f00'],["By'",'#008000'],["Bz'",'#00f'],['|B|','#000']],22);

function jet(v){v=Math.max(0,Math.min(1,v));const c=x=>Math.round(255*Math.max(0,Math.min(1,1.5-Math.abs(x))));return 'rgb('+c(4*v-3)+','+c(4*v-2)+','+c(4*v-1)+')';}
q=tpanel('pitch-angle-distribution-chart',2,[0,180],'Suprathermal Electrons Pitch Angle Distribution (96.71eV)','pitch angle (deg)');
padRows.forEach((row,ri)=>{for(let ci=0;ci<row.length;ci++){const ch=row[ci];if(ch==='.')continue;
  const t0=padColStart+ci*padColWidth,a1=180-ri*padRowHeight;
  const x1=q.sx(t0),x2=q.sx(t0+padColWidth),y1=q.sy(a1),y2=q.sy(a1-padRowHeight);
  const c=mk('rect',{x:x1,y:y1,width:x2-x1+0.5,height:y2-y1+0.5,fill:jet(0.40+0.035*(+ch))},q.plot);
  
  }});
tfinish(q,[0,60,120,180],['0','60','120','180']);
{const lg=mk('linearGradient',{id:'jetg',x1:0,y1:1,x2:0,y2:0},defs);
 for(let k=0;k<=10;k++)mk('stop',{offset:k/10,'stop-color':jet(k/10)},lg);
 const cb=mk('g',{},svg);
 const y0=ttop(2);mk('rect',{x:1692,y:y0,width:9,height:TH,fill:'url(#jetg)',stroke:'#000','stroke-width':2},cb);
 cbarLabels.forEach((s,k)=>{const yy=y0+k*TH/5;const t=text('10',1708,yy+8,18,'start',cb,'colorbar-tick-label');const sp=mk('tspan',{dy:-9,'font-size':11},t);sp.textContent=MINUS+s;});}

q=tpanel('solar-wind-velocity-chart',3,[-400,50],'Solar Wind Velocity (GSE Frame)','Vsw(km/s)');
polyline(q,tGrid,swVx,'#f00','vx-line');polyline(q,tGrid,swVy,'#008000','vy-line');polyline(q,tGrid,swVz,'#00f','vz-line');
tv=range(-400,50,50);tfinish(q,tv,tv.map(v=>fmt(v,0)),15);
legend(q,1604,ttop(3)+8,72,[['Vx','#f00'],['Vy','#008000'],['Vz','#00f']],22);

q=tpanel('plasma-beta-chart',4,[0,5],'Plasma Beta',null);
{const t=text('\u03b2',66,ttop(4)+TH/2,17,'middle',q.g,'y-axis-title',null,-90);t.textContent='\u03b2p and \u03b2';t.setAttribute('font-style','italic');}
polyline(q,betaPT,betaPV,'#00f','beta-p-line');polyline(q,betaT,betaV,'#008000','beta-line');
tv=range(0,5,1);tfinish(q,tv,tv.map(v=>String(v)));
legend(q,1607,ttop(4)+6,69,[['\u03b2p','#00f'],['\u03b2','#008000']],26);

q=tpanel('proton-density-chart',5,[0,30],'Proton Number Density','Np(#/cc)');
polyline(q,npT,npV,'#00f','density-line');
tv=range(0,30,5);tfinish(q,tv,tv.map(v=>String(v)));

q=tpanel('proton-temperature-chart',6,[0,0.5],'Proton Temperature and Te/Tp',null);
{const t=text('Tp(10',66,ttop(6)+TH/2+32,17,'start',q.g,'y-axis-title',null,-90);const s=mk('tspan',{dy:-7,'font-size':11},t);s.textContent='6';const s2=mk('tspan',{dy:7},t);s2.textContent='K)';}
polyline(q,tpT,tpV,'#00f','tp-line');
{const yr2=v=>ttop(6)+TH-v/5*TH;
 const pts=teT.map((t,i)=>q.sx(t).toFixed(1)+','+yr2(teV[i]).toFixed(1)).join(' ');
 const l=mk('polyline',{points:pts,fill:'none',stroke:'#f00','stroke-width':2},q.plot);
 
 [0,1,2,3,4,5].forEach(v=>text(String(v),TX+TW+8,yr2(v)+6,16,'start',q.g,'right-y-tick-label','#f00'));
 text('Te/Tp',1712,ttop(6)+TH/2,16,'middle',q.g,'right-y-axis-title','#f00',-90).setAttribute('font-style','italic');}
tv=range(0,0.5,0.1);tfinish(q,tv,tv.map(v=>v.toFixed(1)));
legend(q,124,3013,71,[['Tp','#00f']],16,'tp-legend');
legend(q,1588,3013,88,[['Te/Tp','#f00']],20,'te-tp-legend');
</script>
</body></html>
